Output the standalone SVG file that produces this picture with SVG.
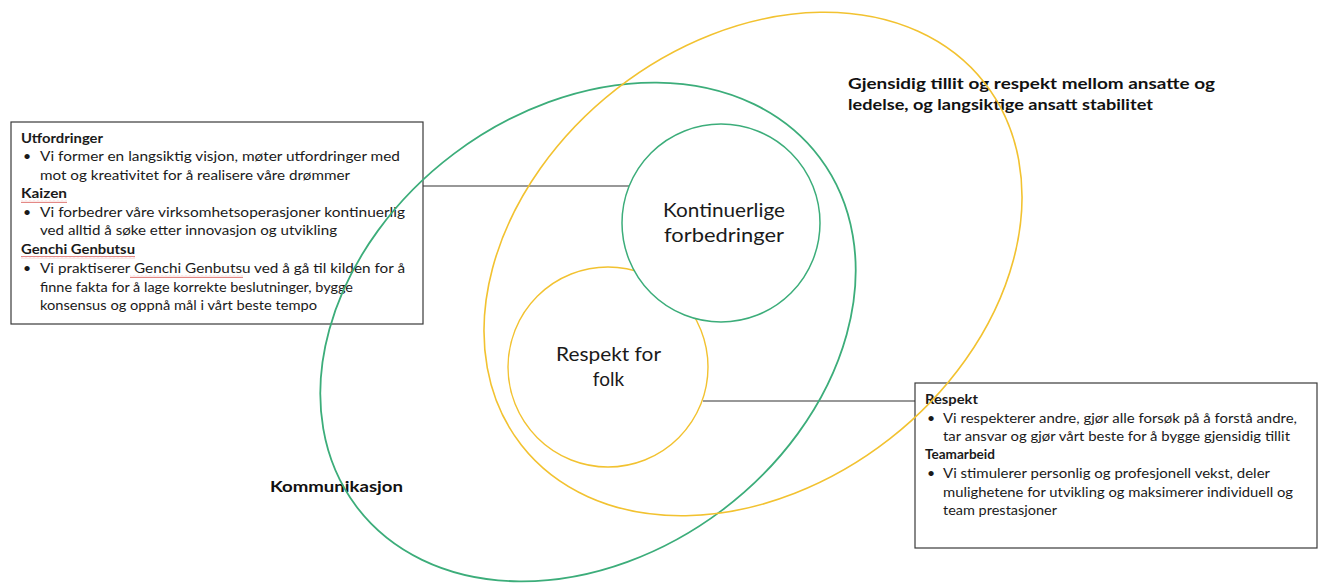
<svg xmlns="http://www.w3.org/2000/svg" width="1319" height="585" viewBox="0 0 1319 585">
<style>
.t{font-family:Lato,"Liberation Sans",sans-serif;font-size:14px;fill:#1a1a1a}
.b{font-weight:bold}
.big{font-family:Lato,"Liberation Sans",sans-serif;font-size:19px;fill:#1a1a1a}
.hl{font-family:Lato,"Liberation Sans",sans-serif;font-size:16px;font-weight:bold;fill:#111}
.box{fill:none;stroke:#3a3a3a;stroke-width:1.2}
.conn{stroke:#333;stroke-width:1.2;fill:none}
.g{fill:none;stroke:#3cad7a;stroke-width:1.8}
.y{fill:none;stroke:#f2c230;stroke-width:1.6}
.gs{fill:#fff;stroke:#3cad7a;stroke-width:1.5}
.ys{fill:#fff;stroke:#f2c230;stroke-width:1.4}
.sq{fill:url(#squig)}
</style>
<defs>
<pattern id="squig" patternUnits="userSpaceOnUse" width="4" height="3">
<path d="M0,2.2 L1,0.8 L2,2.2 L3,0.8 L4,2.2" fill="none" stroke="#d9534f" stroke-width="0.7"/>
</pattern>
</defs>
<rect width="1319" height="585" fill="#fff"/>

<g id="box-left">
<rect class="box" x="11" y="122" width="412" height="202"/>
<text class="t b" x="21" y="143" textLength="82" lengthAdjust="spacingAndGlyphs">Utfordringer</text>
<text class="t" x="23" y="161">•</text>
<text class="t" x="40" y="161" textLength="360" lengthAdjust="spacingAndGlyphs">Vi former en langsiktig visjon, møter utfordringer med</text>
<text class="t" x="40" y="179.5" textLength="310" lengthAdjust="spacingAndGlyphs">mot og kreativitet for å realisere våre drømmer</text>
<text class="t b" x="21" y="198" textLength="46" lengthAdjust="spacingAndGlyphs">Kaizen</text>
<rect class="sq" x="21" y="200" width="46" height="3"/>
<text class="t" x="23" y="216.5">•</text>
<text class="t" x="40" y="216.5" textLength="365" lengthAdjust="spacingAndGlyphs">Vi forbedrer våre virksomhetsoperasjoner kontinuerlig</text>
<text class="t" x="40" y="235" textLength="297" lengthAdjust="spacingAndGlyphs">ved alltid å søke etter innovasjon og utvikling</text>
<text class="t b" x="21" y="254" textLength="114" lengthAdjust="spacingAndGlyphs">Genchi Genbutsu</text>
<rect class="sq" x="21" y="256" width="114" height="3"/>
<text class="t" x="23" y="273">•</text>
<text class="t" x="40" y="273" textLength="365" lengthAdjust="spacingAndGlyphs">Vi praktiserer Genchi Genbutsu ved å gå til kilden for å</text>
<rect class="sq" x="130" y="275" width="113" height="3"/>
<text class="t" x="40" y="291.5" textLength="313" lengthAdjust="spacingAndGlyphs">finne fakta for å lage korrekte beslutninger, bygge</text>
<text class="t" x="40" y="310" textLength="277" lengthAdjust="spacingAndGlyphs">konsensus og oppnå mål i vårt beste tempo</text>
</g>

<g id="box-right">
<rect class="box" x="915" y="383" width="402" height="165"/>
<text class="t b" x="925" y="404" textLength="53" lengthAdjust="spacingAndGlyphs">Respekt</text>
<text class="t" x="927" y="422.5">•</text>
<text class="t" x="943" y="422.5" textLength="354" lengthAdjust="spacingAndGlyphs">Vi respekterer andre, gjør alle forsøk på å forstå andre,</text>
<text class="t" x="943" y="440.5" textLength="347" lengthAdjust="spacingAndGlyphs">tar ansvar og gjør vårt beste for å bygge gjensidig tillit</text>
<text class="t b" x="925" y="459" textLength="70" lengthAdjust="spacingAndGlyphs">Teamarbeid</text>
<text class="t" x="927" y="478">•</text>
<text class="t" x="943" y="478" textLength="327" lengthAdjust="spacingAndGlyphs">Vi stimulerer personlig og profesjonell vekst, deler</text>
<text class="t" x="943" y="496.5" textLength="350" lengthAdjust="spacingAndGlyphs">mulighetene for utvikling og maksimerer individuell og</text>
<text class="t" x="943" y="515" textLength="114" lengthAdjust="spacingAndGlyphs">team prestasjoner</text>
</g>

<g id="label-gjensidig">
<text class="hl" x="848" y="89" textLength="367" lengthAdjust="spacingAndGlyphs">Gjensidig tillit og respekt mellom ansatte og</text>
<text class="hl" x="848" y="110" textLength="305" lengthAdjust="spacingAndGlyphs">ledelse, og langsiktige ansatt stabilitet</text>
</g>

<g id="label-kommunikasjon">
<text class="hl" x="270" y="492" textLength="133" lengthAdjust="spacingAndGlyphs">Kommunikasjon</text>
</g>

<g id="connectors">
<line class="conn" x1="423" y1="186" x2="629" y2="186"/>
<line class="conn" x1="703" y1="401" x2="915" y2="401"/>
</g>

<g id="ellipse-green">
<ellipse class="g" cx="588" cy="332" rx="290" ry="223" transform="rotate(-37 588 332)"/>
</g>

<g id="ellipse-yellow">
<ellipse class="y" cx="753" cy="264" rx="294" ry="222" transform="rotate(-38 753 264)"/>
</g>

<g id="circle-respekt">
<circle class="ys" cx="608" cy="367" r="100"/>
<text class="big" x="608.5" y="361" text-anchor="middle" textLength="105" lengthAdjust="spacingAndGlyphs">Respekt for</text>
<text class="big" x="608.5" y="386" text-anchor="middle">folk</text>
</g>

<g id="circle-kontinuerlige">
<circle class="gs" cx="721" cy="223" r="99"/>
<text class="big" x="724" y="217" text-anchor="middle" textLength="122" lengthAdjust="spacingAndGlyphs">Kontinuerlige</text>
<text class="big" x="724" y="242" text-anchor="middle" textLength="120" lengthAdjust="spacingAndGlyphs">forbedringer</text>
</g>
</svg>
